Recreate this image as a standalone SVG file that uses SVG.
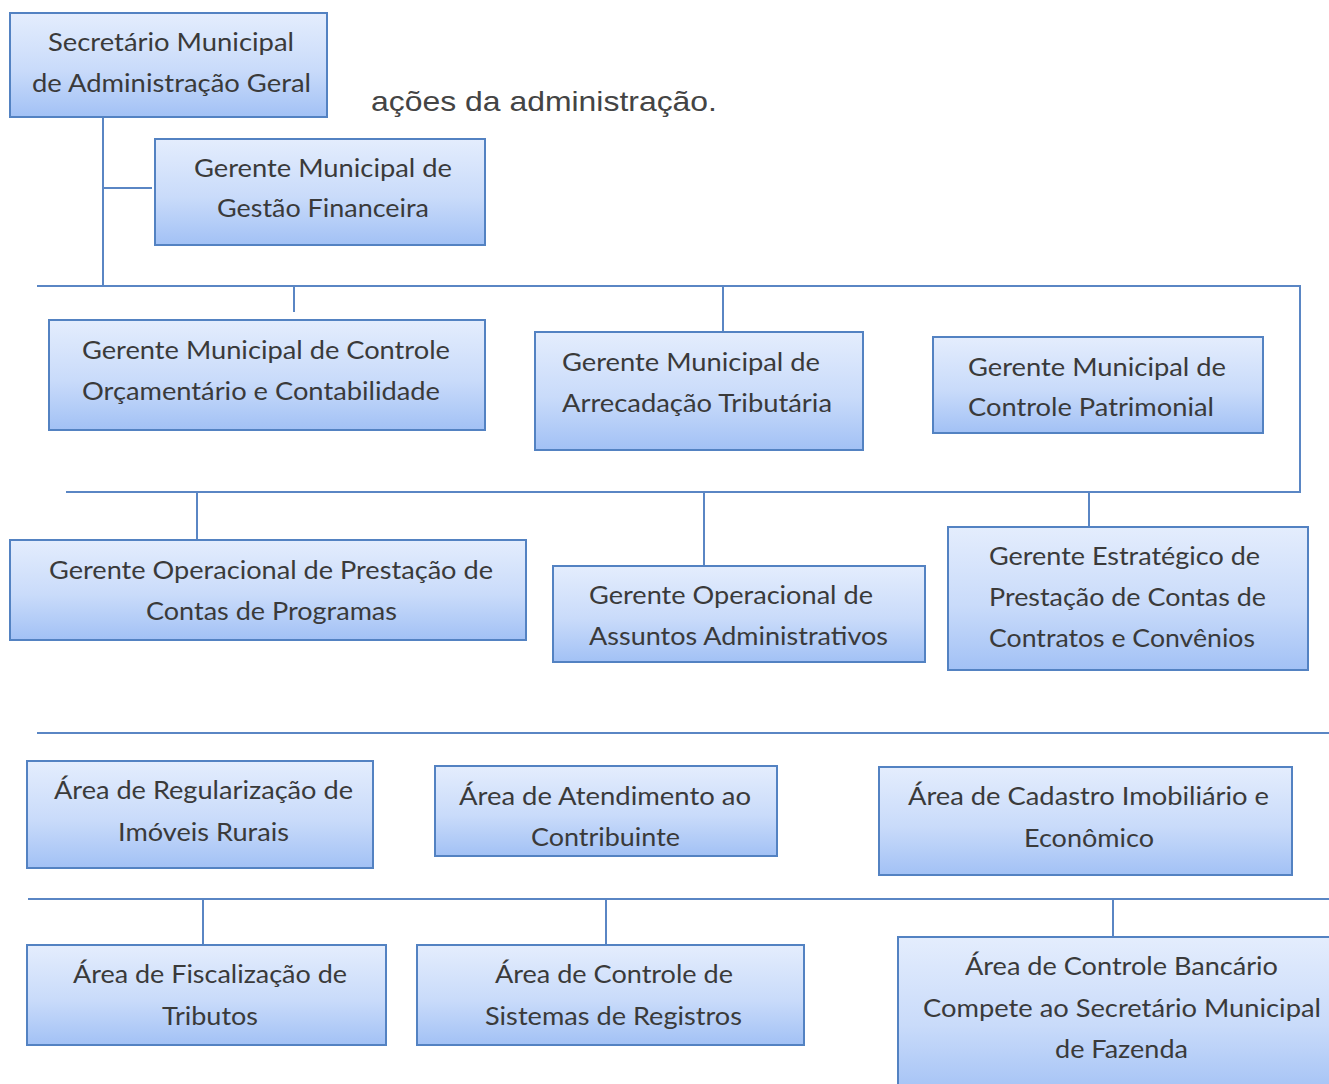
<svg xmlns="http://www.w3.org/2000/svg" width="1329" height="1084" viewBox="0 0 1329 1084">
<defs>
<linearGradient id="g" x1="0" y1="0" x2="0" y2="1">
<stop offset="0" stop-color="#e4edfd"/>
<stop offset="0.55" stop-color="#c9dbfa"/>
<stop offset="1" stop-color="#a2c1f5"/>
</linearGradient>
<style>
.box{fill:url(#g);stroke:#5382c2;stroke-width:2}
.t{font-family:Lato,"Open Sans","Liberation Sans",sans-serif;font-size:25px;fill:#3a3a3a}
.c{text-anchor:middle}
.ln{stroke:#5a86c4;stroke-width:2;fill:none}
</style>
</defs>
<rect width="1329" height="1084" fill="#ffffff"/>
<g id="connectors">
<path class="ln" d="M103 117V287M103 188H152M37 286H1301M1300 286V492M294 286V312M723 286V332M66 492H1301M197 492V540M704 492V566M1089 492V527M37 733H1329M28 899H1329M203 899V945M606 899V945M1113 899V937"/>
</g>
<text class="t" x="371" y="111" style="font-family:'Liberation Sans',Arial,sans-serif;font-size:28px;fill:#444" textLength="346" lengthAdjust="spacingAndGlyphs">ações da administração.</text>
<g id="n1"><rect class="box" x="10" y="13" width="317" height="104"/>
<text class="t c" x="171" y="51" textLength="246" lengthAdjust="spacingAndGlyphs">Secretário Municipal</text>
<text class="t c" x="171.5" y="92" textLength="279" lengthAdjust="spacingAndGlyphs">de Administração Geral</text></g>
<g id="n2"><rect class="box" x="155" y="139" width="330" height="106"/>
<text class="t c" x="323" y="177" textLength="258" lengthAdjust="spacingAndGlyphs">Gerente Municipal de</text>
<text class="t c" x="323" y="217" textLength="212" lengthAdjust="spacingAndGlyphs">Gestão Financeira</text></g>
<g id="n3"><rect class="box" x="49" y="320" width="436" height="110"/>
<text class="t" x="82" y="359" textLength="368" lengthAdjust="spacingAndGlyphs">Gerente Municipal de Controle</text>
<text class="t" x="82" y="400" textLength="358" lengthAdjust="spacingAndGlyphs">Orçamentário e Contabilidade</text></g>
<g id="n4"><rect class="box" x="535" y="332" width="328" height="118"/>
<text class="t" x="562" y="371" textLength="258" lengthAdjust="spacingAndGlyphs">Gerente Municipal de</text>
<text class="t" x="562" y="412" textLength="270" lengthAdjust="spacingAndGlyphs">Arrecadação Tributária</text></g>
<g id="n5"><rect class="box" x="933" y="337" width="330" height="96"/>
<text class="t" x="968" y="376" textLength="258" lengthAdjust="spacingAndGlyphs">Gerente Municipal de</text>
<text class="t" x="968" y="416" textLength="246" lengthAdjust="spacingAndGlyphs">Controle Patrimonial</text></g>
<g id="n6"><rect class="box" x="10" y="540" width="516" height="100"/>
<text class="t c" x="271" y="579" textLength="444" lengthAdjust="spacingAndGlyphs">Gerente Operacional de Prestação de</text>
<text class="t c" x="271.5" y="620" textLength="251" lengthAdjust="spacingAndGlyphs">Contas de Programas</text></g>
<g id="n7"><rect class="box" x="553" y="566" width="372" height="96"/>
<text class="t" x="589" y="604" textLength="284" lengthAdjust="spacingAndGlyphs">Gerente Operacional de</text>
<text class="t" x="589" y="645" textLength="299" lengthAdjust="spacingAndGlyphs">Assuntos Administrativos</text></g>
<g id="n8"><rect class="box" x="948" y="527" width="360" height="143"/>
<text class="t" x="989" y="565" textLength="271" lengthAdjust="spacingAndGlyphs">Gerente Estratégico de</text>
<text class="t" x="989" y="606" textLength="277" lengthAdjust="spacingAndGlyphs">Prestação de Contas de</text>
<text class="t" x="989" y="647" textLength="266" lengthAdjust="spacingAndGlyphs">Contratos e Convênios</text></g>
<g id="n9"><rect class="box" x="27" y="761" width="346" height="107"/>
<text class="t c" x="203.5" y="799" textLength="299" lengthAdjust="spacingAndGlyphs">Área de Regularização de</text>
<text class="t c" x="203.5" y="841" textLength="171" lengthAdjust="spacingAndGlyphs">Imóveis Rurais</text></g>
<g id="n10"><rect class="box" x="435" y="766" width="342" height="90"/>
<text class="t c" x="605" y="805" textLength="292" lengthAdjust="spacingAndGlyphs">Área de Atendimento ao</text>
<text class="t c" x="605.5" y="846" textLength="149" lengthAdjust="spacingAndGlyphs">Contribuinte</text></g>
<g id="n11"><rect class="box" x="879" y="767" width="413" height="108"/>
<text class="t c" x="1088.5" y="805" textLength="361" lengthAdjust="spacingAndGlyphs">Área de Cadastro Imobiliário e</text>
<text class="t c" x="1089" y="847" textLength="130" lengthAdjust="spacingAndGlyphs">Econômico</text></g>
<g id="n12"><rect class="box" x="27" y="945" width="359" height="100"/>
<text class="t c" x="210" y="983" textLength="274" lengthAdjust="spacingAndGlyphs">Área de Fiscalização de</text>
<text class="t c" x="210" y="1025" textLength="96" lengthAdjust="spacingAndGlyphs">Tributos</text></g>
<g id="n13"><rect class="box" x="417" y="945" width="387" height="100"/>
<text class="t c" x="614" y="983" textLength="238" lengthAdjust="spacingAndGlyphs">Área de Controle de</text>
<text class="t c" x="613.5" y="1025" textLength="257" lengthAdjust="spacingAndGlyphs">Sistemas de Registros</text></g>
<g id="n14"><rect class="box" x="898" y="937" width="445" height="160"/>
<text class="t c" x="1121.5" y="975" textLength="313" lengthAdjust="spacingAndGlyphs">Área de Controle Bancário</text>
<text class="t c" x="1122" y="1017" textLength="398" lengthAdjust="spacingAndGlyphs">Compete ao Secretário Municipal</text>
<text class="t c" x="1121.5" y="1058" textLength="133" lengthAdjust="spacingAndGlyphs">de Fazenda</text></g>
</svg>
